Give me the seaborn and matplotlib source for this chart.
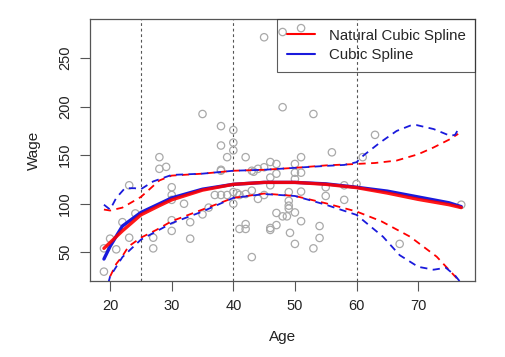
import numpy as np
import pandas as pd
import seaborn as sns
import matplotlib
matplotlib.use("Agg")
import matplotlib.pyplot as plt

# scatter data
age = [19, 19, 20, 21, 22, 23.1, 23.1, 24.1, 27, 27, 28, 28, 29.1,
       30, 30, 30, 30, 30, 32, 33, 33, 35, 35, 36, 37, 38, 38, 38, 38, 38, 39, 39,
       40, 40, 40, 40, 40, 40.6, 41, 41, 42, 42, 42, 42, 43, 43, 43, 43.3, 44, 44,
       45, 45, 45, 46, 46, 46, 46, 46, 47, 47, 47, 47, 48, 48, 48, 48.7, 49, 49, 49, 49, 49.2,
       50, 50, 50, 50, 50, 51, 51, 51, 51, 51, 53, 53, 54, 54, 55, 55, 56,
       58, 58, 60, 61, 63, 67, 77]
wage = [30, 54, 64, 53, 81, 119, 65, 90, 65, 54, 148, 136, 138,
        117, 109, 104, 83, 72, 100, 81, 64, 192.5, 89, 96, 109, 180, 160, 135, 134, 109, 148, 109,
        176, 163, 155, 112, 100, 111, 109, 74, 148, 110, 79, 74, 134, 113.5, 45, 133, 136, 105,
        271.6, 137.6, 109, 143, 127, 119, 75, 73, 141, 131, 90.5, 78, 277, 199.5, 87, 87, 112, 103, 98, 95, 70,
        141, 132, 125.5, 91, 58.6, 281, 148, 132, 112.5, 82, 192.5, 54, 77, 64.7, 117, 108, 153,
        119, 104, 120.4, 148, 171, 58.6, 99]

# natural cubic spline fit and bands
ns_age = [19, 20, 22, 25, 28, 30, 35, 40, 45, 50, 55, 60, 65, 70, 75, 77]
ns_fit = [54, 60, 72, 88.5, 98, 104, 114, 120, 122, 122, 120, 116.6, 111, 104.5, 99, 96]
ns_up_age = [19, 20, 22, 25, 28, 30, 35, 40, 45, 50, 55, 60, 63, 66.5, 70, 72.5, 75, 76.5]
ns_up = [94, 93, 96, 107, 124, 129, 131, 134, 135, 137, 139.5, 141, 142, 144.5, 151, 158, 166, 172]
ns_lo_age = [20, 21, 22, 23, 25, 27.5, 30, 35, 40, 45, 50, 55, 60, 64, 68.7, 73, 76.3, 77]
ns_lo = [25, 38, 46, 56, 65, 73, 82, 94, 106, 110.5, 108, 100.5, 92, 82, 66, 45.5, 23, 18]

# cubic spline fit and bands
cs_age = [19, 20, 22, 25, 28, 30, 35, 40, 45, 50, 55, 60, 65, 70, 75, 77]
cs_fit = [43, 56, 77, 91, 100, 106, 115, 120, 122, 122, 120.5, 117, 113, 107, 101, 97]
cs_up_age = [19, 20, 21, 22.4, 24, 25, 27, 30, 35, 40, 45, 50, 55, 58, 60, 61.1, 63.8, 66.5, 68.7,
             69.8, 72.5, 75.2, 76, 76.7]
cs_up = [99, 94, 106, 116, 116, 115, 123, 129.7, 131, 134, 135, 137, 139, 140, 142.8, 149.6, 163,
         175, 180.5, 181, 177, 170, 171, 179]
cs_lo_age = [19.7, 20, 22, 24, 25, 30, 35, 40, 45, 50, 55, 60, 64.3, 67, 70, 72.5, 74.5, 76, 77]
cs_lo = [18, 25, 45, 57, 63, 80, 92, 106, 110, 108, 99, 88.5, 66, 47, 35, 32, 34, 26, 18]

knots = [25, 40, 60]

sns.set_theme(style="white")
plt.rcParams['font.family'] = ['Liberation Sans', 'DejaVu Sans']
plt.rcParams['font.size'] = 10.5

fig = plt.figure(figsize=(5.06, 3.57), dpi=100)
ax = fig.add_axes([0.178, 0.213, 0.761, 0.734])

sns.scatterplot(x=age, y=wage, ax=ax, marker="o", s=28, facecolor="none",
                edgecolor="#a9a9a9", linewidth=0.9, zorder=2)

sns.lineplot(x=ns_up_age, y=ns_up, ax=ax, color="red", lw=1.3, linestyle=(0, (4, 3)),
             sort=False, estimator=None, zorder=3)
sns.lineplot(x=ns_lo_age, y=ns_lo, ax=ax, color="red", lw=1.3, linestyle=(0, (4, 3)),
             sort=False, estimator=None, zorder=3)
sns.lineplot(x=cs_up_age, y=cs_up, ax=ax, color="#1a1adc", lw=1.3, linestyle=(0, (4, 3)),
             sort=False, estimator=None, zorder=3)
sns.lineplot(x=cs_lo_age, y=cs_lo, ax=ax, color="#1a1adc", lw=1.3, linestyle=(0, (4, 3)),
             sort=False, estimator=None, zorder=3)
sns.lineplot(x=cs_age, y=cs_fit, ax=ax, color="#1a1adc", lw=2.4,
             sort=False, estimator=None, zorder=4)
sns.lineplot(x=ns_age, y=ns_fit, ax=ax, color="red", lw=2.4, alpha=0.9,
             sort=False, estimator=None, zorder=5)

for k in knots:
    ax.axvline(k, color="#555555", lw=0.8, linestyle=(0, (2.5, 2.5)), zorder=1)

ax.set_xlim(16.75, 79.25)
ax.set_ylim(20.4, 290.5)
ax.set_xticks([20, 30, 40, 50, 60, 70])
ax.set_yticks([50, 100, 150, 200, 250])
ax.tick_params(axis="both", direction="out", length=7, width=0.8, color="#555555",
               labelsize=10.5, labelcolor="#222222", pad=6, bottom=True, left=True)
for lab in ax.get_yticklabels():
    lab.set_rotation(90)
    lab.set_va("center")
for sp in ax.spines.values():
    sp.set_visible(True)
    sp.set_color("#555555")
    sp.set_linewidth(0.9)

ax.set_xlabel("Age", fontsize=11, color="#222222", labelpad=12)
ax.set_ylabel("Wage", fontsize=11, color="#222222", labelpad=12)

handles = [plt.Line2D([], [], color="red", lw=1.5),
           plt.Line2D([], [], color="#1a1adc", lw=1.5)]
leg = ax.legend(handles, ["Natural Cubic Spline", "Cubic Spline"], loc="upper right",
                borderaxespad=0, fancybox=False, edgecolor="#333333",
                handlelength=1.9, handletextpad=0.9, borderpad=0.65, labelspacing=0.35,
                fontsize=10.8)
leg.get_frame().set_facecolor("none")
leg.get_frame().set_linewidth(0.8)

fig.savefig("out.png", dpi=100)
